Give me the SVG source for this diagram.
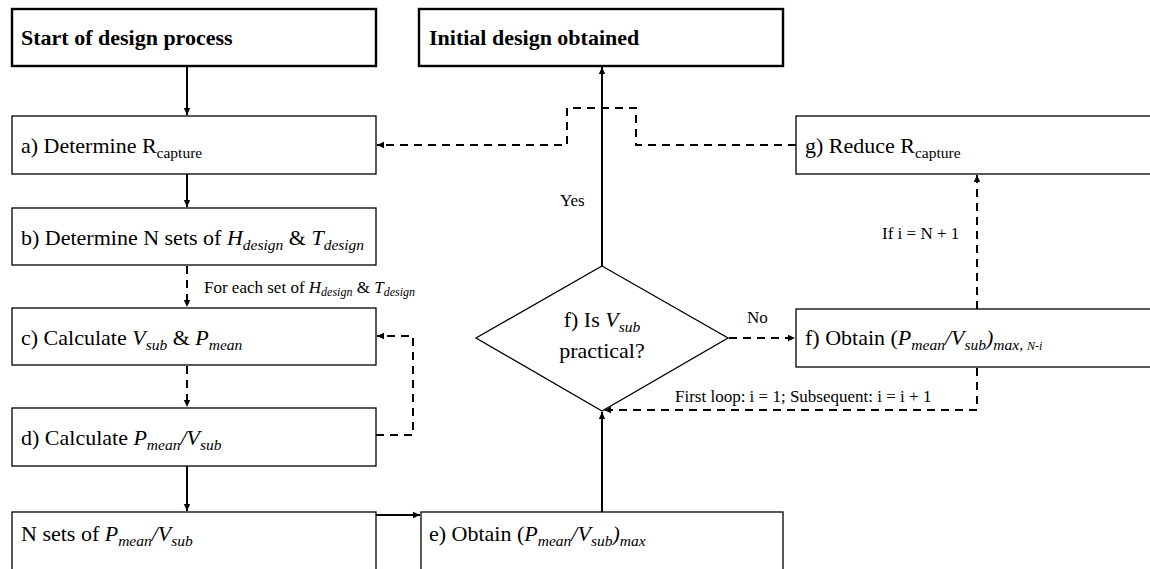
<svg xmlns="http://www.w3.org/2000/svg" width="1150" height="569" viewBox="0 0 1150 569">
<style>
.box{fill:#fff;stroke:#000;stroke-width:1.3}
.bold{fill:#fff;stroke:#000;stroke-width:2.4}
.t{font-family:"Liberation Serif","Times New Roman",serif;font-size:22px;fill:#000}
.tb{font-family:"Liberation Serif","Times New Roman",serif;font-size:22px;font-weight:bold;fill:#000}
.s{font-family:"Liberation Serif","Times New Roman",serif;font-size:17px;fill:#000}
.i{font-style:italic}
.sub{font-size:15.5px}
.ssub{font-size:12px}
.solid{fill:none;stroke:#000;stroke-width:2}
.dash{fill:none;stroke:#000;stroke-width:2;stroke-dasharray:8 6}
</style>
<defs>
<marker id="ah" markerUnits="userSpaceOnUse" markerWidth="8" markerHeight="8" refX="7" refY="4" orient="auto">
<path d="M0,0.8 L7,4 L0,7.2 z" fill="#000"/>
</marker>
</defs>
<rect width="1150" height="569" fill="#fff"/>
<g id="connectors">
<line class="solid" x1="187" y1="66" x2="187" y2="115" marker-end="url(#ah)"/>
<line class="solid" x1="187" y1="174" x2="187" y2="207" marker-end="url(#ah)"/>
<line class="dash" x1="187" y1="266" x2="187" y2="307" marker-end="url(#ah)"/>
<line class="dash" x1="187" y1="366" x2="187" y2="407" marker-end="url(#ah)"/>
<path class="dash" d="M376,435 H413 V336 H377" marker-end="url(#ah)"/>
<line class="solid" x1="187" y1="466" x2="187" y2="511" marker-end="url(#ah)"/>
<line class="solid" x1="376" y1="515" x2="420" y2="515" marker-end="url(#ah)"/>
<line class="solid" x1="602" y1="512" x2="602" y2="412" marker-end="url(#ah)"/>
<line class="solid" x1="602" y1="266" x2="602" y2="67" marker-end="url(#ah)"/>
<line class="dash" x1="729" y1="338" x2="795" y2="338" marker-end="url(#ah)"/>
<line class="dash" x1="977" y1="309" x2="977" y2="175" marker-end="url(#ah)"/>
<path class="dash" d="M977,368 V410 H604" marker-end="url(#ah)"/>
<path class="dash" d="M796,145 H636 V108 H567 V145 H377" marker-end="url(#ah)"/>
<text class="s" x="204" y="293">For each set of <tspan class="i">H</tspan><tspan class="i ssub" dy="3">design</tspan><tspan dy="-3"> &amp; </tspan><tspan class="i">T</tspan><tspan class="i ssub" dy="3">design</tspan></text>
<text class="s" x="560" y="206">Yes</text>
<text class="s" x="747" y="323">No</text>
<text class="s" x="882" y="239">If i = N + 1</text>
<text class="s" x="675" y="402">First loop: i = 1; Subsequent: i = i + 1</text>
</g>
<g id="start">
<rect class="bold" x="12" y="9" width="364" height="57"/>
<text class="tb" x="21" y="45">Start of design process</text>
</g>
<g id="initial">
<rect class="bold" x="419" y="9" width="364" height="57"/>
<text class="tb" x="429" y="45">Initial design obtained</text>
</g>
<g id="a">
<rect class="box" x="12" y="116" width="364" height="58"/>
<text class="t" x="21" y="153">a) Determine R<tspan class="sub" dy="5">capture</tspan></text>
</g>
<g id="g">
<rect class="box" x="796" y="116" width="370" height="58"/>
<text class="t" x="805" y="153">g) Reduce R<tspan class="sub" dy="5">capture</tspan></text>
</g>
<g id="b">
<rect class="box" x="12" y="208" width="364" height="57"/>
<text class="t" x="21" y="245">b) Determine N sets of <tspan class="i">H</tspan><tspan class="i sub" dy="5">design</tspan><tspan dy="-5"> &amp; </tspan><tspan class="i">T</tspan><tspan class="i sub" dy="5">design</tspan></text>
</g>
<g id="c">
<rect class="box" x="12" y="308" width="364" height="57"/>
<text class="t" x="21" y="345">c) Calculate <tspan class="i">V</tspan><tspan class="i sub" dy="5">sub</tspan><tspan dy="-5"> &amp; </tspan><tspan class="i">P</tspan><tspan class="i sub" dy="5">mean</tspan></text>
</g>
<g id="d">
<rect class="box" x="12" y="408" width="364" height="58"/>
<text class="t" x="21" y="445">d) Calculate <tspan class="i">P</tspan><tspan class="i sub" dy="5">mean</tspan><tspan class="i" dy="-5">/V</tspan><tspan class="i sub" dy="5">sub</tspan></text>
</g>
<g id="nsets">
<rect class="box" x="12" y="512" width="364" height="80"/>
<text class="t" x="21" y="541">N sets of <tspan class="i">P</tspan><tspan class="i sub" dy="5">mean</tspan><tspan class="i" dy="-5">/V</tspan><tspan class="i sub" dy="5">sub</tspan></text>
</g>
<g id="e">
<rect class="box" x="421" y="512" width="362" height="80"/>
<text class="t" x="429" y="541">e) Obtain (<tspan class="i">P</tspan><tspan class="i sub" dy="5">mean</tspan><tspan class="i" dy="-5">/V</tspan><tspan class="i sub" dy="5">sub</tspan><tspan class="i" dy="-5">)</tspan><tspan class="i sub" dy="5">max</tspan></text>
</g>
<g id="decision">
<polygon class="box" points="602,266 728,338 602,411 476,338"/>
<text class="t" x="602" y="327" text-anchor="middle">f) Is <tspan class="i">V</tspan><tspan class="i sub" dy="5">sub</tspan></text>
<text class="t" x="602" y="358" text-anchor="middle">practical?</text>
</g>
<g id="f">
<rect class="box" x="796" y="309" width="370" height="58"/>
<text class="t" x="805" y="345">f) Obtain (<tspan class="i">P</tspan><tspan class="i sub" dy="5">mean</tspan><tspan class="i" dy="-5">/V</tspan><tspan class="i sub" dy="5">sub</tspan><tspan class="i" dy="-5">)</tspan><tspan class="i sub" dy="5">max, </tspan><tspan class="i ssub">N-i</tspan></text>
</g>
</svg>
